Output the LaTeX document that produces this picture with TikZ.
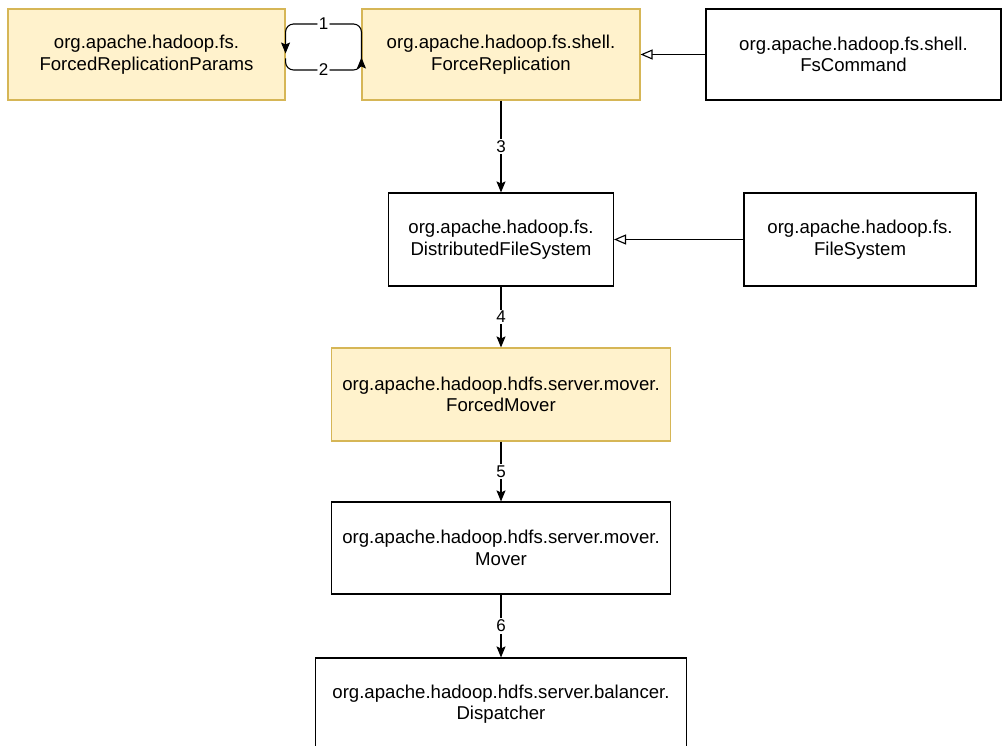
\documentclass[tikz,border=0pt]{standalone}
\usepackage{fontspec}
\setmainfont{Liberation Sans}
\usetikzlibrary{arrows.meta}
\definecolor{noteFill}{HTML}{FFF2CC}
\definecolor{noteLine}{HTML}{D6B656}
\tikzset{
  cls/.style={draw=black, fill=white, line width=1.1pt, align=center,
    inner sep=0pt, font=\fontsize{18.6}{21.5}\selectfont},
  hot/.style={cls, draw=noteLine, fill=noteFill},
  flow/.style={draw=black, line width=1.1pt,
    -{Stealth[length=11pt,width=9pt,inset=2pt]}},
  inherit/.style={draw=black, line width=1.1pt,
    -{Triangle[open,length=12pt,width=10pt,fill=white]}},
  num/.style={fill=white, inner sep=1.5pt, font=\fontsize{17}{17}\selectfont}
}
\begin{document}
\begin{tikzpicture}[x=1pt,y=-1pt]
\useasboundingbox (0,0) rectangle (1003,746);
\clip (0,0) rectangle (1003,746);

% classes
\node[hot, minimum width=277pt, minimum height=91pt] (A) at (146.5,54.5)
  {org.apache.hadoop.fs.\\ForcedReplicationParams};
\node[hot, minimum width=278pt, minimum height=91pt] (B) at (501,54.5)
  {org.apache.hadoop.fs.shell.\\ForceReplication};
\node[cls, minimum width=295pt, minimum height=91pt] (C) at (853.5,54.5)
  {org.apache.hadoop.fs.shell.\\FsCommand};
\node[cls, minimum width=225pt, minimum height=93pt] (D) at (501,239.5)
  {org.apache.hadoop.fs.\\DistributedFileSystem};
\node[cls, minimum width=232pt, minimum height=93pt] (E) at (860,239.5)
  {org.apache.hadoop.fs.\\FileSystem};
\node[hot, minimum width=339pt, minimum height=93pt] (F) at (501,394.5)
  {org.apache.hadoop.hdfs.server.mover.\\ForcedMover};
\node[cls, minimum width=339pt, minimum height=92pt] (G) at (501,548)
  {org.apache.hadoop.hdfs.server.mover.\\Mover};
\node[cls, minimum width=371pt, minimum height=92pt] (H) at (501,704)
  {org.apache.hadoop.hdfs.server.balancer.\\Dispatcher};

% loop between the two replication classes
\coordinate (loopTop) at (323,24);
\coordinate (loopBot) at (323,70);
\draw[flow, rounded corners=8pt] ([yshift=-10pt]B.west) -- (B.west |- loopTop)
  -- node[num] {1} (A.east |- loopTop) -- ([yshift=1pt]A.east);
\draw[flow, rounded corners=8pt] ([yshift=-4pt]A.east) -- (A.east |- loopBot)
  -- node[num] {2} (B.west |- loopBot) -- ([yshift=-3pt]B.west);

% call chain
\draw[flow] (B.south) -- node[num] {3} (D.north);
\draw[flow] (D.south) -- node[num] {4} (F.north);
\draw[flow] (F.south) -- node[num] {5} (G.north);
\draw[flow] (G.south) -- node[num] {6} (H.north);

% inheritance
\draw[inherit] (C.west) -- (B.east);
\draw[inherit] (E.west) -- (D.east);
\end{tikzpicture}
\end{document}
